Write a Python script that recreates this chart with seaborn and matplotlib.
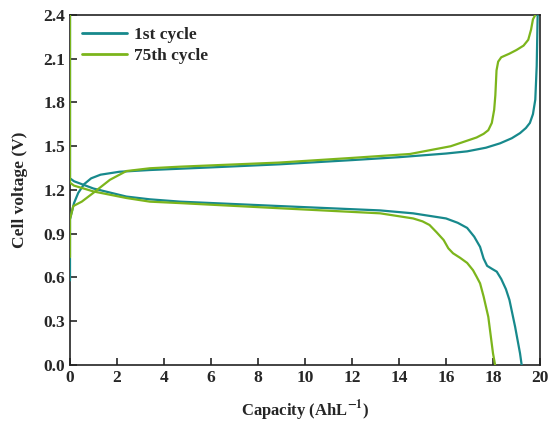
import numpy as np
import pandas as pd
import matplotlib
matplotlib.use("Agg")
import matplotlib.pyplot as plt
import seaborn as sns

# Charge / discharge curves
c1_charge_x = [0, 0, 0.17, 0.35, 0.6, 0.9, 1.3, 2.1, 3.4, 6.0, 8.9, 12.0, 14.0, 16.0, 16.9, 17.7,
               18.3, 18.8, 19.15, 19.4, 19.57, 19.7, 19.8, 19.86, 19.9]
c1_charge_y = [0.58, 1.0, 1.11, 1.18, 1.24, 1.28, 1.305, 1.325, 1.337, 1.355, 1.376, 1.405, 1.425, 1.45, 1.465, 1.49,
               1.52, 1.555, 1.59, 1.625, 1.66, 1.72, 1.82, 2.05, 2.4]

c1_dis_x = [0, 0, 0.17, 1.0, 2.4, 3.4, 4.7, 8.9, 13.2, 14.6, 16.0, 16.5, 16.9, 17.2, 17.45, 17.6, 17.75,
            17.95, 18.16, 18.35, 18.55, 18.7, 18.94, 19.15, 19.22]
c1_dis_y = [2.4, 1.28, 1.26, 1.21, 1.155, 1.136, 1.12, 1.09, 1.06, 1.04, 1.005, 0.975, 0.94, 0.88, 0.81, 0.73, 0.68,
            0.66, 0.64, 0.59, 0.52, 0.446, 0.263, 0.08, 0.0]

c75_charge_x = [0, 0, 0.14, 0.5, 0.99, 1.7, 2.4, 3.4, 4.7, 8.9, 12.0, 14.47, 16.2, 17.3, 17.6, 17.8, 17.95,
                18.05, 18.1, 18.15, 18.22, 18.35, 18.7, 19.0, 19.3, 19.5, 19.62, 19.7, 19.8]
c75_charge_y = [0.74, 1.0, 1.09, 1.12, 1.18, 1.27, 1.33, 1.349, 1.36, 1.388, 1.42, 1.447, 1.50, 1.56, 1.585, 1.61, 1.66,
                1.75, 1.85, 2.02, 2.08, 2.11, 2.135, 2.16, 2.19, 2.23, 2.3, 2.37, 2.4]

c75_dis_x = [0, 0, 0.17, 1.0, 2.4, 3.4, 4.7, 8.9, 13.2, 14.6, 15.0, 15.3, 15.6, 15.9, 16.1, 16.3, 16.6, 16.9,
             17.15, 17.3, 17.45, 17.6, 17.8, 18.0, 18.09]
c75_dis_y = [2.4, 1.25, 1.23, 1.19, 1.145, 1.12, 1.11, 1.075, 1.04, 1.005, 0.985, 0.96, 0.91, 0.857, 0.80, 0.766, 0.735, 0.70,
             0.65, 0.606, 0.56, 0.47, 0.33, 0.08, 0.0]

cycles = ["1st cycle", "75th cycle"]
colors = ["#17898c", "#7cb51c"]

frames = []
for cyc, branch, xs, ys in [
    (cycles[0], "charge1", c1_charge_x, c1_charge_y),
    (cycles[0], "dis1", c1_dis_x, c1_dis_y),
    (cycles[1], "charge75", c75_charge_x, c75_charge_y),
    (cycles[1], "dis75", c75_dis_x, c75_dis_y),
]:
    frames.append(pd.DataFrame({"cap": xs, "volt": ys, "cycle": cyc, "branch": branch}))
df = pd.concat(frames, ignore_index=True)

sns.set_style("ticks")
plt.rcParams["font.family"] = ["Liberation Serif", "DejaVu Serif"]
plt.rcParams["font.weight"] = "bold"
plt.rcParams["mathtext.fontset"] = "stix"
plt.rcParams["mathtext.default"] = "bf"

fig, ax = plt.subplots(figsize=(5.49, 4.26), dpi=100)
fig.subplots_adjust(left=0.1275, right=0.9836, top=0.9648, bottom=0.1432)

sns.lineplot(data=df, x="cap", y="volt", hue="cycle", units="branch",
             estimator=None, sort=False, palette=colors, linewidth=1.6,
             zorder=3, ax=ax)

ax.set_xlim(0, 20)
ax.set_ylim(0, 2.4)
ax.set_xticks(np.arange(0, 21, 2))
ax.set_yticks(np.arange(0, 2.41, 0.3))
ax.yaxis.set_major_formatter(matplotlib.ticker.FormatStrFormatter("%.1f"))
ax.tick_params(direction="in", length=5, width=1.2, labelsize=12.5, top=False, right=False)
for lab in ax.get_xticklabels() + ax.get_yticklabels():
    lab.set_fontweight("bold")
for sp in ax.spines.values():
    sp.set_linewidth(1.2)
    sp.set_color("#222222")

ax.set_xlabel("Capacity (AhL$^{-1}$)", fontsize=12, fontweight="bold", labelpad=9)
ax.set_ylabel("Cell voltage (V)", fontsize=12.5, fontweight="bold", labelpad=11)

leg = ax.legend(loc="upper left", frameon=False, fontsize=12.5, handlelength=2.6,
                borderaxespad=0.3, labelspacing=0.25, handletextpad=0.4)
for t in leg.get_texts():
    t.set_fontweight("bold")
for h in leg.get_lines():
    h.set_linewidth(2)

fig.savefig("out.png", dpi=100)
